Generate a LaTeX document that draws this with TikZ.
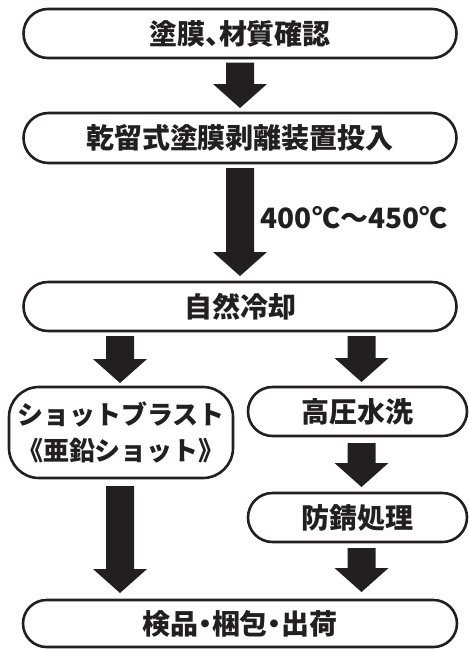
\documentclass[tikz,border=0pt]{standalone}
\usepackage{fontspec}
\newfontfamily\jp{Noto Sans CJK JP}
\newfontfamily\jphalt{Noto Sans CJK JP}[RawFeature=+halt]
\usetikzlibrary{calc,shapes.misc}
\definecolor{ink}{HTML}{231F20}
\tikzset{
  stage/.style={draw=ink, line width=2.6pt, rounded rectangle, minimum height=49pt,
    inner sep=0pt, outer sep=0pt, text=ink,
    font=\jp\bfseries\fontsize{28}{34}\selectfont},
  tallstage/.style={draw=ink, line width=2.6pt, rectangle, rounded corners=30pt,
    inner sep=0pt, outer sep=0pt, text=ink, align=center,
    font=\jp\bfseries\fontsize{26}{36}\selectfont},
  label/.style={inner sep=0pt, text=ink, font=\jp\bfseries\fontsize{28}{34}\selectfont},
  arrowfill/.style={fill=ink},
}
\newcommand\blockarrow[2]{%
  \fill[arrowfill] ($(#1)+(-14,0)$) -- ($(#1)+(14,0)$) -- ($(#2)+(14,-24)$)
    -- ($(#2)+(27,-24)$) -- (#2) -- ($(#2)+(-27,-24)$) -- ($(#2)+(-14,-24)$) -- cycle;}
\begin{document}
\begin{tikzpicture}[x=1pt,y=-1pt]
\useasboundingbox (0,0) rectangle (469,649);
\node[stage, minimum width=433pt] (b1) at (240,33.5) {塗膜{\bfseries\jphalt 、}材質確認};
\node[stage, minimum width=433pt, minimum height=50pt] (b2) at (240,138) {乾留式塗膜剥離装置投入};
\node[stage, minimum width=433pt] (b3) at (240,306.5) {自然冷却};
\node[tallstage, minimum width=224pt, minimum height=91pt] (b4) at (121,432.5) {ショットブラスト\\《亜鉛ショット》};
\node[stage, minimum width=219pt] (b5) at (357.5,411.5) {高圧水洗};
\node[stage, minimum width=219pt] (b6) at (357.5,517.5) {防錆処理};
\node[stage, minimum width=434pt, minimum height=47pt] (b7) at (240,623.5) {検品{\bfseries\jphalt ・}梱包{\bfseries\jphalt ・}出荷};
\node[label] (t) at (354,218) {400℃～450℃};
% connectors
\coordinate (a1s) at ($(b1.south)+(0,4.5)$); \coordinate (a1e) at ($(b2.north)+(0,-5)$);
\coordinate (a2s) at ($(b2.south)+(0,5)$);   \coordinate (a2e) at ($(b3.north)+(0,-6)$);
\coordinate (a3s) at ($(b3.south -| b4.north)+(-1,5)$); \coordinate (a3e) at ($(b4.north)+(-1,-4)$);
\coordinate (a4s) at ($(b3.south -| b5.north)+(4,5)$);  \coordinate (a4e) at ($(b5.north)+(4,-5)$);
\coordinate (a5s) at ($(b5.south)+(4,7)$);   \coordinate (a5e) at ($(b6.north)+(4,-6)$);
\coordinate (a6s) at ($(b4.south)+(-1,8)$);  \coordinate (a6e) at ($(b7.north -| b4.south)+(-1,-7)$);
\coordinate (a7s) at ($(b6.south)+(4,6)$);   \coordinate (a7e) at ($(b7.north -| b6.south)+(4,-8)$);
\blockarrow{a1s}{a1e}
\blockarrow{a2s}{a2e}
\blockarrow{a3s}{a3e}
\blockarrow{a4s}{a4e}
\blockarrow{a5s}{a5e}
\blockarrow{a6s}{a6e}
\blockarrow{a7s}{a7e}
\end{tikzpicture}
\end{document}
